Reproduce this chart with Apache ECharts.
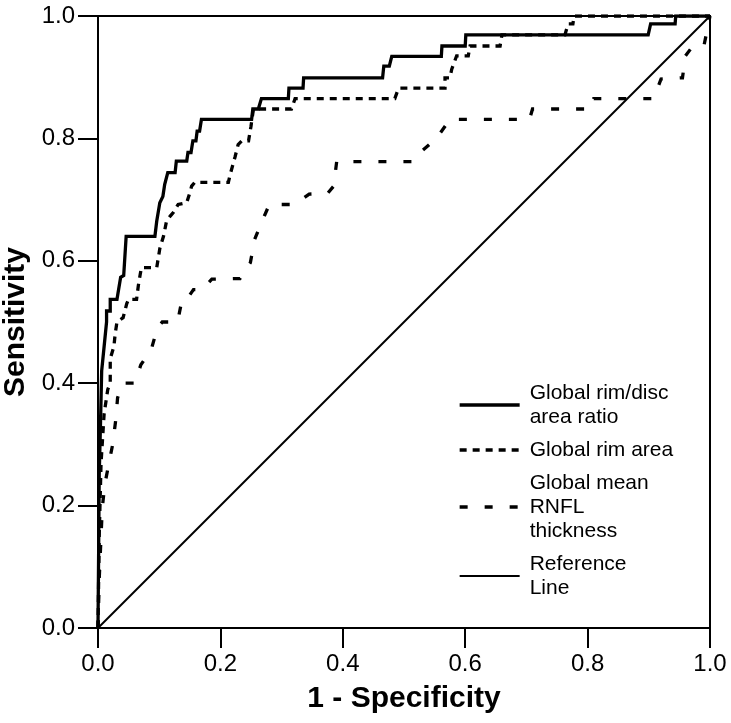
<!DOCTYPE html>
<html>
<head>
<meta charset="utf-8">
<script src="https://cdn.jsdelivr.net/npm/echarts@6/dist/echarts.min.js"></script>
<style>html,body{margin:0;padding:0;background:#fff}#chart{width:731px;height:723px}</style>
</head>
<body>
<div id="chart"></div>
<script>
// ---- data (x = 1 - Specificity, y = Sensitivity) ----
const seriesNames = ['Global rim/disc\narea ratio', 'Global rim area', 'Global mean\nRNFL\nthickness', 'Reference\nLine'];
const xTicks = [0.0, 0.2, 0.4, 0.6, 0.8, 1.0];
const yTicks = [0.0, 0.2, 0.4, 0.6, 0.8, 1.0];

const rimDiscRatio = [[0,0],[0.001,0.12],[0.002,0.25],[0.004,0.33],[0.006,0.42],[0.010,0.46],[0.014,0.50],[0.014,0.518],[0.020,0.518],[0.020,0.537],[0.031,0.537],[0.037,0.573],[0.042,0.576],[0.046,0.640],[0.093,0.640],[0.096,0.665],[0.101,0.695],[0.106,0.705],[0.109,0.725],[0.114,0.744],[0.126,0.744],[0.128,0.763],[0.145,0.763],[0.147,0.777],[0.152,0.777],[0.155,0.796],[0.160,0.796],[0.162,0.812],[0.166,0.812],[0.169,0.831],[0.251,0.831],[0.253,0.848],[0.262,0.848],[0.267,0.865],[0.311,0.865],[0.312,0.882],[0.335,0.882],[0.336,0.899],[0.465,0.899],[0.467,0.918],[0.476,0.918],[0.480,0.934],[0.561,0.934],[0.562,0.951],[0.600,0.951],[0.601,0.969],[0.899,0.969],[0.903,0.987],[0.943,0.987],[0.944,1.0],[1.0,1.0]];

const rimArea = [[0,0],[0.002,0.15],[0.005,0.27],[0.010,0.35],[0.016,0.39],[0.020,0.40],[0.020,0.44],[0.026,0.46],[0.028,0.48],[0.031,0.50],[0.041,0.507],[0.047,0.53],[0.050,0.537],[0.063,0.537],[0.066,0.56],[0.069,0.578],[0.071,0.589],[0.096,0.589],[0.101,0.62],[0.107,0.64],[0.112,0.665],[0.118,0.673],[0.123,0.679],[0.131,0.692],[0.145,0.695],[0.150,0.711],[0.153,0.722],[0.158,0.728],[0.213,0.728],[0.216,0.741],[0.224,0.77],[0.229,0.79],[0.235,0.796],[0.246,0.796],[0.250,0.82],[0.254,0.848],[0.316,0.848],[0.322,0.865],[0.485,0.865],[0.491,0.882],[0.567,0.882],[0.567,0.899],[0.575,0.899],[0.578,0.913],[0.586,0.935],[0.605,0.935],[0.608,0.951],[0.657,0.951],[0.660,0.969],[0.763,0.969],[0.768,0.987],[0.776,0.987],[0.778,1.0],[1.0,1.0]];

const rnflThickness = [[0,0],[0.002,0.08],[0.005,0.15],[0.007,0.196],[0.011,0.234],[0.018,0.27],[0.024,0.30],[0.029,0.34],[0.032,0.376],[0.040,0.40],[0.060,0.40],[0.070,0.43],[0.087,0.455],[0.097,0.49],[0.105,0.50],[0.130,0.50],[0.137,0.535],[0.145,0.537],[0.156,0.553],[0.170,0.553],[0.186,0.57],[0.232,0.571],[0.249,0.597],[0.256,0.635],[0.266,0.66],[0.280,0.692],[0.320,0.692],[0.330,0.698],[0.345,0.709],[0.375,0.71],[0.385,0.722],[0.390,0.762],[0.515,0.762],[0.530,0.78],[0.553,0.80],[0.575,0.831],[0.705,0.831],[0.710,0.848],[0.805,0.848],[0.810,0.865],[0.908,0.865],[0.920,0.897],[0.955,0.899],[0.960,0.935],[0.972,0.951],[0.990,0.951],[0.995,0.975],[1.0,1.0]];

const referenceLine = [[0,0],[1,1]];

// ---- chart ----
const FONT = '"Liberation Sans", Arial, sans-serif';
const chart = echarts.init(document.getElementById('chart'), null, {renderer: 'canvas'});

function axisCommon(name, ticks) {
  return {
    type: 'value', min: ticks[0], max: ticks[ticks.length - 1], interval: ticks[1] - ticks[0],
    name: name, nameLocation: 'middle',
    nameTextStyle: {fontFamily: FONT, fontSize: 30, fontWeight: 'bold', color: '#000'},
    axisLine: {show: true, onZero: false, lineStyle: {color: '#000', width: 2}},
    axisTick: {show: true, inside: false, length: 20, lineStyle: {color: '#000', width: 2}},
    axisLabel: {fontFamily: FONT, fontSize: 24, color: '#000', margin: 23, formatter: v => v.toFixed(1)},
    splitLine: {show: false}
  };
}

const xAxis = axisCommon('1 - Specificity', xTicks);
xAxis.nameGap = 56;
xAxis.axisLabel.margin = 24;
const yAxis = axisCommon('Sensitivity', yTicks);
yAxis.nameGap = 67;
yAxis.axisLabel.margin = 23;

const styles = [
  {width: 3.3, type: 'solid'},
  {width: 3.3, type: [7, 6]},
  {width: 3.3, type: [8, 17]},
  {width: 2, type: 'solid'}
];

function lineSeries(name, data, style, z) {
  return {
    name: name, type: 'line', data: data, symbol: 'none', showSymbol: false,
    lineStyle: Object.assign({color: '#000', cap: 'butt', join: 'miter'}, style),
    itemStyle: {color: '#000'},
    z: z, animation: false, silent: true
  };
}

chart.setOption({
  animation: false,
  backgroundColor: '#fff',
  grid: {left: 98, top: 16, width: 612, height: 612, show: true, borderColor: '#000', borderWidth: 2,
         backgroundColor: 'transparent', containLabel: false, outerBoundsMode: 'none'},
  xAxis: xAxis,
  yAxis: yAxis,
  legend: {
    orient: 'vertical', left: 458, top: 381, padding: 0,
    itemWidth: 60, itemHeight: 14, itemGap: 9,
    itemStyle: {color: 'rgba(0,0,0,0)', borderColor: 'rgba(0,0,0,0)'},
    textStyle: {fontFamily: FONT, fontSize: 21, lineHeight: 24, color: '#000', padding: [0, 0, 0, 5]},
    data: seriesNames.map((n, i) => ({name: n, lineStyle: {color: '#000', width: styles[i].width, type: styles[i].type, cap: 'butt'}}))
  },
  series: [
    lineSeries(seriesNames[0], rimDiscRatio, styles[0], 5),
    lineSeries(seriesNames[1], rimArea, styles[1], 4),
    lineSeries(seriesNames[2], rnflThickness, styles[2], 3),
    lineSeries(seriesNames[3], referenceLine, styles[3], 2)
  ]
});
</script>
</body>
</html>
